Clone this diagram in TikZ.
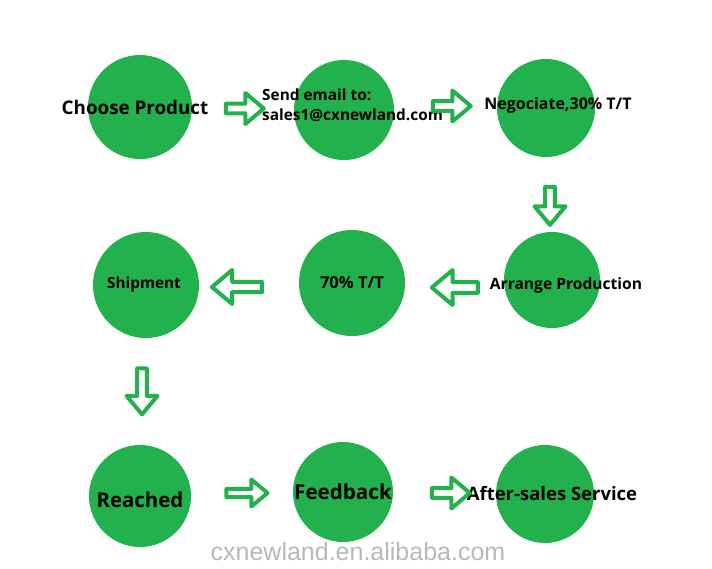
\documentclass[tikz,border=0pt]{standalone}
\usepackage{fontspec}
\setmainfont{Open Sans}
\newfontfamily\sitefont{Liberation Sans}
\usetikzlibrary{calc, shapes.arrows}

\definecolor{paintgreen}{RGB}{34,177,76}

\begin{document}
\begin{tikzpicture}[x=1pt, y=-1pt,
  stage/.style={circle, fill=paintgreen, inner sep=0pt, minimum size=#1},
  stage/.default=102pt,
  caption/.style={font=\bfseries\fontsize{#1}{20pt}\selectfont, align=left, inner sep=0pt},
  flow/.style={single arrow, draw=paintgreen, fill=white, line width=4pt, line join=round,
    inner sep=0pt, minimum width=31pt, minimum height=38pt,
    single arrow head extend=4.5pt, single arrow tip angle=80}]
  \useasboundingbox (0,0) rectangle (712,568);
  % top row
  \node[stage=104pt] (choose) at (140,107) {};
  \node[stage=100pt] (email) at (344,110) {};
  \node[stage=98pt] (nego) at (546,108) {};
  \node[caption=18.8pt] (chooseT) at ([xshift=-5pt]choose.center) {Choose Product};
  \node[caption=15.4pt, anchor=west] (emailT) at ([xshift=-82pt,yshift=5pt]email.center) {Send email to:\\sales1@cxnewland.com};
  \node[caption=16pt] (negoT) at ([xshift=12pt,yshift=3pt]nego.center) {Negociate,30\% T/T};
  % middle row
  \node[stage=96pt] (arrange) at (552,280) {};
  \node[stage=106pt] (seventy) at (352,283) {};
  \node[stage=106pt] (ship) at (146,285) {};
  \node[caption=15.6pt] (arrangeT) at ([xshift=14pt,yshift=-5pt]arrange.center) {Arrange Production};
  \node[caption=16.5pt] (seventyT) at (seventy) {70\% T/T};
  \node[caption=15.3pt] (shipT) at ([xshift=-2pt]ship.center) {Shipment};
  % bottom row
  \node[stage=102pt] (reached) at (140,496) {};
  \node[stage=100pt] (feedback) at (343,492) {};
  \node[stage=98pt] (after) at (545,494) {};
  \node[caption=20.4pt] (reachedT) at ([yshift=-4pt]reached.center) {Reached};
  \node[caption=20.6pt] (feedbackT) at (feedback) {Feedback};
  \node[caption=18.5pt] (afterT) at ([xshift=7pt]after.center) {After-sales Service};
  % block arrows between the steps
  \node[flow] (a1) at ($(choose)!.5!(email)$) {};
  \node[flow] (a2) at ($(email)!.5!(nego)+(4,-3)$) {};
  \node[flow, shape border rotate=270] (a3) at ($(nego)!.5!(arrange)+(1,9)$) {};
  \node[flow, shape border rotate=180, minimum height=46pt, minimum width=35pt] (a4) at ($(arrange)!.5!(seventy)+(6,6)$) {};
  \node[flow, shape border rotate=180, minimum height=50pt, minimum width=34pt] (a5) at ($(seventy)!.5!(ship)+(-9,3)$) {};
  \node[flow, shape border rotate=270, minimum height=46pt] (a6) at ($(ship)!.5!(reached)+(-1,-2)$) {};
  \node[flow, minimum height=41pt, minimum width=27pt] (a7) at ($(reached)!.5!(feedback)+(3,-1)$) {};
  \node[flow] (a8) at ($(feedback)!.5!(after)+(4,0)$) {};
  % watermark
  \node[font=\sitefont\fontsize{25pt}{25pt}\selectfont, text=black!28, inner sep=0pt] (site) at (358,552) {cxnewland.en.alibaba.com};
\end{tikzpicture}
\end{document}
